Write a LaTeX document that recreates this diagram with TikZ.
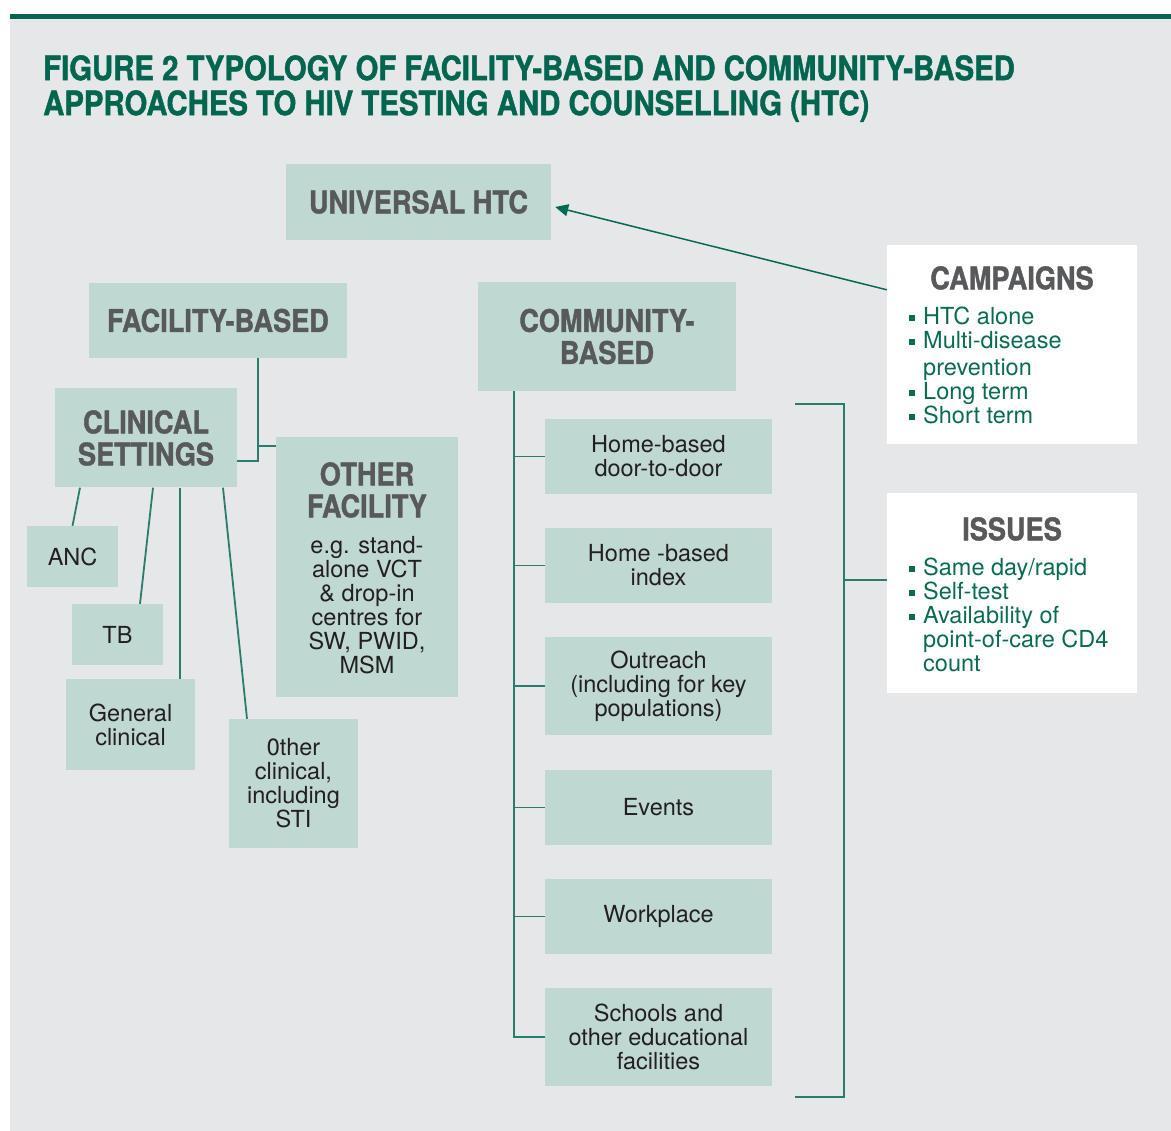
\documentclass[tikz,border=0pt]{standalone}
\usepackage{fontspec}
\setmainfont{TeX Gyre Heros}
\newfontfamily\headfont[FakeStretch=0.87,FakeBold=1.2]{TeX Gyre Heros}
\usetikzlibrary{arrows.meta,calc}
\definecolor{bggray}{HTML}{E6E7E9}
\definecolor{titlegreen}{HTML}{00664F}
\definecolor{linegreen}{HTML}{2A7C6C}
\definecolor{arrowgreen}{HTML}{006B54}
\definecolor{boxfill}{HTML}{C0D8D2}
\definecolor{headgray}{HTML}{58595B}
\definecolor{bodytext}{HTML}{231F20}
\definecolor{listgreen}{HTML}{0A6B55}
\newcommand{\hd}{\headfont\bfseries\fontsize{31.2}{32}\selectfont}
\newcommand{\bd}{\fontsize{23.5}{24}\selectfont}
\newcommand{\blt}{\makebox[14pt][l]{\raisebox{4pt}{\rule{5.5pt}{5.5pt}}}}
\tikzset{
  box/.style={fill=boxfill, inner sep=0pt, align=center},
  headbox/.style={box, font=\hd, text=headgray},
  bodybox/.style={box, font=\bd, text=bodytext},
  whitebox/.style={fill=white, inner sep=0pt},
  conn/.style={draw=linegreen, line width=1.8pt},
  arr/.style={draw=arrowgreen, line width=1.5pt, -{Triangle[length=13pt,width=12pt]}},
  listtext/.style={inner sep=0pt, align=left, text=listgreen, anchor=north west},
}
\begin{document}
\begin{tikzpicture}[x=1pt,y=-1pt]
\useasboundingbox (0,0) rectangle (1171,1131);
\fill[white] (0,0) rectangle (1171,1131);
\fill[bggray] (10,19) rectangle (1171,1131);
\fill[titlegreen] (10,14) rectangle (1171,19.5);

% title
\node[inner sep=0pt, anchor=north west, align=left, text=titlegreen,
      font=\headfont\bfseries\fontsize{33.7}{35}\selectfont] (title) at (43,55)
  {FIGURE 2 TYPOLOGY OF FACILITY-BASED AND COMMUNITY-BASED\\APPROACHES TO HIV TESTING AND COUNSELLING (HTC)};

% top level boxes
\node[headbox, minimum width=265pt, minimum height=76pt] (univ) at (418.5,202) {UNIVERSAL HTC};
\node[headbox, minimum width=258pt, minimum height=75pt] (fac) at (218,320.5) {FACILITY-BASED};
\node[headbox, minimum width=258pt, minimum height=109pt] (comm) at (607,336.5) {COMMUNITY-\\BASED};

% facility side
\node[headbox, minimum width=182pt, minimum height=99pt] (clin) at (146,438) {CLINICAL\\SETTINGS};
\node[box, minimum width=182pt, minimum height=260pt] (other) at (367,567) {};
\node[inner sep=0pt, anchor=north, align=center, font=\hd, text=headgray] (otherhd) at (367,462) {OTHER\\FACILITY};
\node[inner sep=0pt, anchor=north, align=center, font=\bd, text=bodytext] (otherbd) at (367,536)
  {e.g. stand-\\alone VCT\\\& drop-in\\centres for\\SW, PWID,\\MSM};

\node[bodybox, minimum width=91pt, minimum height=61pt] (anc) at (72.5,556.5) {ANC};
\node[bodybox, minimum width=91pt, minimum height=61pt] (tb) at (117.5,634.5) {TB};
\node[bodybox, minimum width=129pt, minimum height=91pt] (gen) at (130.5,724.5) {General\\clinical};
\node[bodybox, minimum width=129pt, minimum height=129pt] (oth) at (293.5,783.5) {0ther\\clinical,\\including\\STI};

% community side
\node[bodybox, minimum width=227pt, minimum height=75pt] (c1) at (658.5,456.5) {Home-based\\door-to-door};
\node[bodybox, minimum width=227pt, minimum height=75pt] (c2) at (658.5,565.5) {Home -based\\index};
\node[bodybox, minimum width=227pt, minimum height=98pt] (c3) at (658.5,686) {Outreach\\(including for key\\populations)};
\node[bodybox, minimum width=227pt, minimum height=75pt] (c4) at (658.5,807.5) {Events};
\node[bodybox, minimum width=227pt, minimum height=75pt] (c5) at (658.5,916.5) {Workplace};
\node[bodybox, minimum width=227pt, minimum height=98pt] (c6) at (658.5,1037) {Schools and\\other educational\\facilities};

% campaigns and issues
\node[whitebox, minimum width=250pt, minimum height=199pt] (camp) at (1012,344.5) {};
\node[inner sep=0pt, anchor=north, font=\hd, text=headgray] (camphd) at (1012,266) {CAMPAIGNS};
\node[listtext, font=\fontsize{23.5}{24}\selectfont] (camplist) at (909,307)
  {\blt HTC alone\\\blt Multi-disease\\[3pt]\hspace*{14pt}prevention\\\blt Long term\\\blt Short term};

\node[whitebox, minimum width=250pt, minimum height=200pt] (iss) at (1012,593) {};
\node[inner sep=0pt, anchor=north, font=\hd, text=headgray] (isshd) at (1012,517) {ISSUES};
\node[listtext, font=\fontsize{23.5}{24}\selectfont] (isslist) at (909,558)
  {\blt Same day/rapid\\\blt Self-test\\\blt Availability of\\\hspace*{14pt}point-of-care CD4\\\hspace*{14pt}count};

% facility connectors
\coordinate (fj) at (258,461);
\coordinate (fj2) at (258,446);
\draw[conn] (fac.south -| fj) -- (fj) -- (fj -| clin.east);
\draw[conn] (fj2) -- (fj2 -| other.west);

\draw[conn] ([xshift=-66pt]clin.south) -- (anc.north);
\draw[conn] ([xshift=7pt]clin.south) -- ([xshift=22.5pt]tb.north);
\draw[conn] ([xshift=34pt]clin.south) -- ([xshift=49.5pt]gen.north);
\draw[conn] ([xshift=77pt]clin.south) -- ([xshift=-46.5pt]oth.north);

% community spine
\coordinate (sp) at ([xshift=-93pt]comm.south);
\draw[conn] (sp) -- (sp |- c6.west) -- (c6.west);
\foreach \c in {c1,c2,c3,c4,c5}{
  \draw[conn] (sp |- \c.west) -- (\c.west);
}

% bracket to issues
\coordinate (bt) at (795,404);
\coordinate (bb) at (795,1097);
\coordinate (bm) at (844,580);
\draw[conn] (bt) -- (bt -| bm) -- (bb -| bm) -- (bb);
\draw[conn] (bm) -- (bm -| iss.west);

% arrow campaigns -> universal
\draw[arr] ([yshift=-45pt]camp.north west) -- ([xshift=4pt,yshift=-5pt]univ.east);
\end{tikzpicture}
\end{document}
